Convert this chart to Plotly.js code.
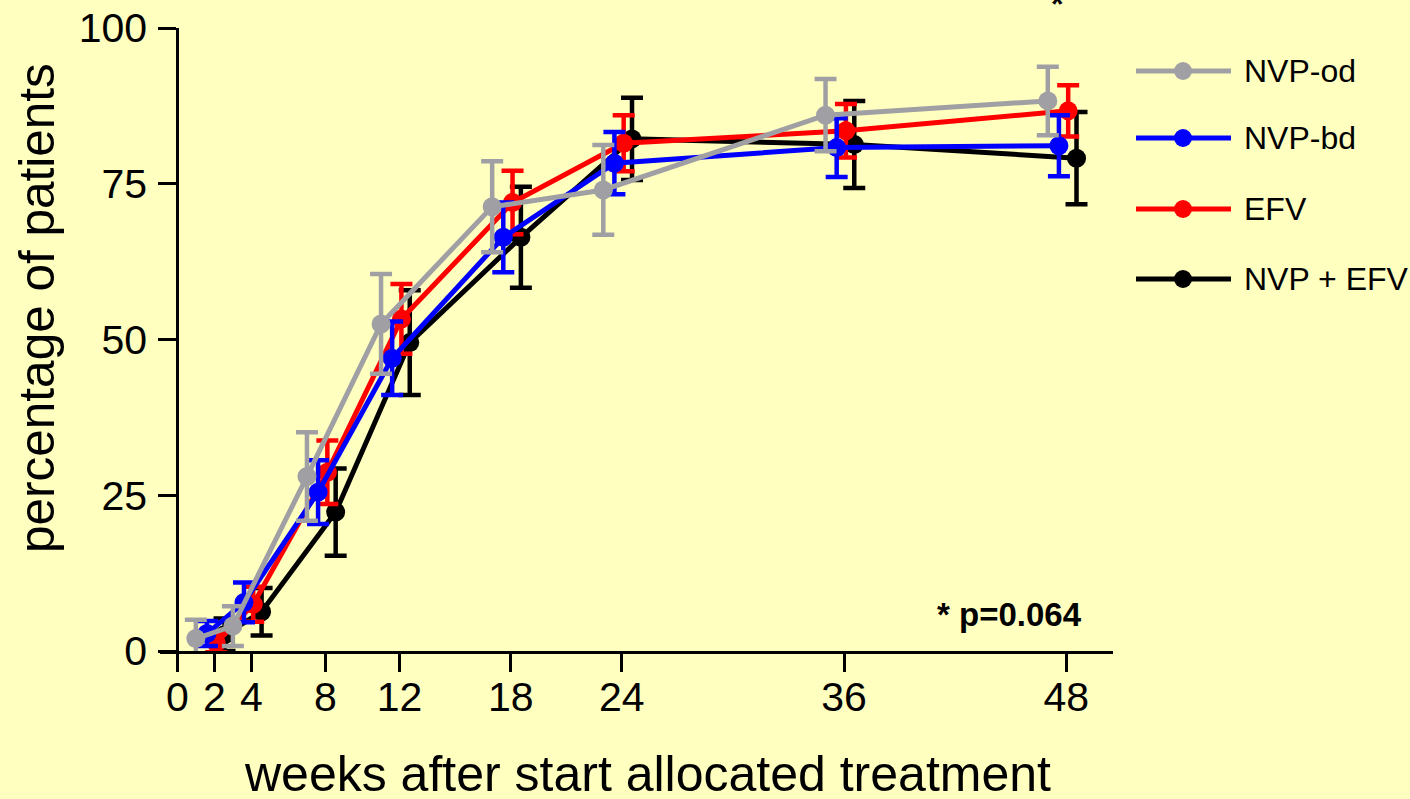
<!DOCTYPE html>
<html>
<head>
<meta charset="utf-8">
<script src="https://cdn.plot.ly/plotly-3.0.1.min.js"></script>
<style>html,body{margin:0;padding:0;background:#ffffc0;}#chart{width:1410px;height:799px;}</style>
</head>
<body>
<div id="chart"></div>
<script>
// ---- data ----
const weeks = [2, 4, 8, 12, 18, 24, 36, 48];
const tickWeeks = [0, 2, 4, 8, 12, 18, 24, 36, 48];
const yTicks = [0, 25, 50, 75, 100];
const seriesNames = ["NVP-od", "NVP-bd", "EFV", "NVP + EFV"];
const nvpOd   = [2.0, 4.0, 28.0, 52.5, 71.3, 74.0, 86.0, 88.3];
const nvpOdErr  = [3.0, 3.2, 7.1, 8.0, 7.3, 7.2, 5.8, 5.5];
const nvpBd   = [2.8, 7.8, 25.5, 47.0, 66.4, 78.3, 80.8, 81.1];
const nvpBdErr  = [2.0, 3.2, 5.1, 5.9, 5.6, 5.0, 4.7, 4.9];
const efv     = [1.3, 7.5, 28.7, 53.3, 72.0, 81.5, 83.5, 86.7];
const efvErr    = [1.5, 2.8, 5.1, 5.6, 5.1, 4.5, 4.3, 4.1];
const nvpEfv  = [2.6, 6.3, 22.3, 49.5, 66.4, 82.2, 81.3, 79.1];
const nvpEfvErr = [2.6, 3.8, 7.0, 8.4, 8.1, 6.6, 7.0, 7.4];
const pText = "* p=0.064";

// ---- styling ----
const colors = {"NVP-od": "#a0a0a4", "NVP-bd": "#0000ff", "EFV": "#ff0000", "NVP + EFV": "#000000"};
const dodge = {"NVP-od": -1.0, "NVP-bd": -0.4, "EFV": 0.1, "NVP + EFV": 0.55};
const bg = "#ffffc0";
const font = "Liberation Sans, Arial, sans-serif";

function mk(name, vals, errs) {
  return {
    type: "scatter", mode: "lines+markers", name: name,
    x: weeks.map(w => w + dodge[name]), y: vals,
    line: {color: colors[name], width: 5},
    marker: {color: colors[name], size: 19},
    error_y: {type: "data", array: errs, visible: true, color: colors[name], thickness: 4.5, width: 11},
    cliponaxis: false, showlegend: false, hoverinfo: "skip"
  };
}
// draw order: black, red, blue, gray (gray on top)
const traces = [
  mk("NVP + EFV", nvpEfv, nvpEfvErr),
  mk("EFV", efv, efvErr),
  mk("NVP-bd", nvpBd, nvpBdErr),
  mk("NVP-od", nvpOd, nvpOdErr)
];

const W = 1410, H = 799, L = 160, R = 297, T = 28, B = 148;
const pw = W - L - R, ph = H - T - B;
const px = x => (x - L) / pw;
const py = y => (H - B - y) / ph;

const shapes = [];
const annotations = [];
const legRows = [71, 138, 209, 279];
seriesNames.forEach((n, i) => {
  const yy = legRows[i];
  shapes.push({type: "line", xref: "paper", yref: "paper", x0: px(1136), x1: px(1231), y0: py(yy), y1: py(yy),
    line: {color: colors[n], width: 5}});
  shapes.push({type: "circle", xref: "paper", yref: "paper", x0: px(1183 - 9), x1: px(1183 + 9), y0: py(yy + 9), y1: py(yy - 9),
    fillcolor: colors[n], line: {width: 0}});
  annotations.push({xref: "paper", yref: "paper", x: px(1242), y: py(yy), xanchor: "left", yanchor: "middle",
    text: n, showarrow: false, font: {family: font, size: 32, color: "#000"}});
});
annotations.push({xref: "paper", yref: "paper", x: px(647), y: py(774), xanchor: "center", yanchor: "middle",
  text: "weeks after start allocated treatment", showarrow: false, font: {family: font, size: 50, color: "#000"}});
annotations.push({xref: "paper", yref: "paper", x: px(36), y: py(308), xanchor: "center", yanchor: "middle", textangle: -90,
  text: "percentage of patients", showarrow: false, font: {family: font, size: 49.5, color: "#000"}});
annotations.push({xref: "paper", yref: "paper", x: px(1084), y: py(614), xanchor: "right", yanchor: "middle",
  text: "<b>" + pText + "</b>", showarrow: false, font: {family: font, size: 33, color: "#000"}});
annotations.push({xref: "paper", yref: "paper", x: px(1057), y: py(4), xanchor: "center", yanchor: "middle",
  text: "<b>*</b>", showarrow: false, font: {family: font, size: 32, color: "#000"}});

const layout = {
  width: W, height: H,
  margin: {l: L, r: R, t: T, b: B, pad: 0},
  paper_bgcolor: bg, plot_bgcolor: bg,
  showlegend: false,
  font: {family: font, color: "#000"},
  xaxis: {
    range: [-0.935, 50.52], tickvals: tickWeeks, ticktext: tickWeeks.map(String),
    showline: true, linewidth: 3, linecolor: "#000", ticks: "outside", ticklen: 18, tickwidth: 3, tickcolor: "#000",
    showgrid: false, zeroline: false, tickfont: {family: font, size: 41, color: "#000"}, ticklabelstandoff: -10
  },
  yaxis: {
    range: [0, 100], tickvals: yTicks, ticktext: yTicks.map(String),
    anchor: "free", position: 0.935 / 51.455,
    showline: true, linewidth: 3, linecolor: "#000", ticks: "outside", ticklen: 18, tickwidth: 3, tickcolor: "#000",
    showgrid: false, zeroline: false, tickfont: {family: font, size: 41, color: "#000"}, ticklabelstandoff: 3
  },
  shapes: shapes, annotations: annotations
};
Plotly.newPlot("chart", traces, layout, {staticPlot: true});
</script>
</body>
</html>
